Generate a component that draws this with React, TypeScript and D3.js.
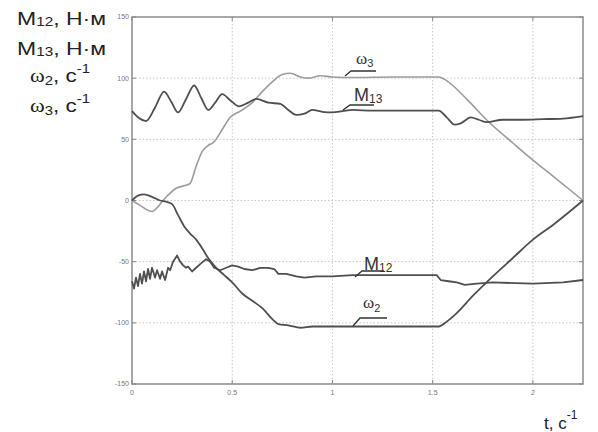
import React from "react";
import * as d3 from "d3";

// [t, value] pairs
const omega3: [number, number][] = [
  [0, 0], [0.04, -4], [0.1, -9], [0.13, -5], [0.16, 1], [0.19, 6], [0.22, 10],
  [0.26, 12], [0.29, 14], [0.32, 28], [0.35, 40], [0.38, 45], [0.41, 48],
  [0.45, 58], [0.49, 68], [0.54, 73], [0.6, 80], [0.65, 89], [0.7, 97],
  [0.75, 103], [0.79, 104], [0.84, 101], [0.88, 100], [0.94, 102], [1.0, 101],
  [1.1, 100.5], [1.3, 101], [1.53, 101], [1.56, 99], [1.6, 94], [1.675, 82],
  [1.775, 65], [1.9, 47], [2.0, 33], [2.1, 20], [2.25, 0],
];

const m13: [number, number][] = [
  [0, 73], [0.03, 68], [0.07, 65], [0.115, 76], [0.16, 89], [0.195, 81],
  [0.23, 72], [0.27, 83], [0.31, 94], [0.345, 84], [0.38, 74], [0.415, 80],
  [0.45, 87], [0.49, 82], [0.535, 77], [0.58, 80], [0.62, 83], [0.68, 80],
  [0.74, 79], [0.78, 74], [0.82, 70], [0.86, 71], [0.9, 74], [0.95, 72.5],
  [1.0, 72], [1.05, 73], [1.1, 74], [1.2, 73.5], [1.3, 73.5], [1.53, 73.5],
  [1.57, 68], [1.61, 62], [1.64, 63], [1.69, 68], [1.73, 66], [1.77, 64],
  [1.85, 66], [1.95, 66], [2.05, 66.5], [2.15, 67], [2.25, 69],
];

const omega2: [number, number][] = [
  [0, 0], [0.03, 4], [0.06, 5], [0.1, 3], [0.14, 0], [0.17, -1], [0.2, -3],
  [0.23, -12], [0.26, -21], [0.29, -27], [0.32, -32], [0.35, -39], [0.38, -47],
  [0.42, -55], [0.46, -61], [0.5, -67], [0.55, -76], [0.6, -82], [0.65, -88],
  [0.7, -97], [0.73, -101], [0.78, -102], [0.84, -104], [0.9, -103],
  [1.0, -103], [1.2, -103], [1.53, -103], [1.57, -99], [1.62, -92],
  [1.7, -78], [1.8, -62], [1.9, -47], [2.0, -32], [2.1, -20], [2.25, 0],
];

const m12: [number, number][] = [
  [0, -66], [0.01, -72], [0.02, -63], [0.03, -70], [0.04, -60], [0.05, -68],
  [0.06, -58], [0.07, -66], [0.08, -56], [0.09, -64], [0.1, -55], [0.115, -63],
  [0.125, -57], [0.14, -64], [0.15, -58], [0.165, -65], [0.18, -55],
  [0.19, -57], [0.205, -50], [0.225, -45], [0.24, -50], [0.255, -53],
  [0.27, -55], [0.28, -54], [0.3, -58], [0.32, -55], [0.34, -52], [0.355, -50],
  [0.37, -48], [0.39, -50], [0.41, -55], [0.44, -57], [0.47, -55], [0.5, -53],
  [0.53, -54], [0.56, -56], [0.6, -57], [0.64, -55], [0.68, -55], [0.71, -56],
  [0.73, -60], [0.77, -60], [0.82, -62], [0.86, -63], [0.92, -62], [1.0, -62],
  [1.1, -61], [1.3, -61], [1.52, -61], [1.54, -65], [1.58, -66], [1.62, -67],
  [1.66, -69], [1.72, -68], [1.8, -67], [2.0, -68], [2.15, -67], [2.25, -65],
];

const xTicks = [0, 0.5, 1, 1.5, 2];
const yTicks = [-150, -100, -50, 0, 50, 100, 150];

const W = 598;
const H = 432;
const left = 132;
const right = 583;
const top = 17;
const bottom = 384;

const x = d3.scaleLinear().domain([0, 2.25]).range([left, right]);
const y = d3.scaleLinear().domain([-150, 150]).range([bottom, top]);

const smooth = d3
  .line<[number, number]>()
  .x((d) => x(d[0]))
  .y((d) => y(d[1]))
  .curve(d3.curveMonotoneX);

const jagged = d3
  .line<[number, number]>()
  .x((d) => x(d[0]))
  .y((d) => y(d[1]));

const dark = "#4f4f4f";
const light = "#9c9c9c";
const sans = "'Liberation Sans', Arial, sans-serif";
const serif = "'Liberation Serif', 'Times New Roman', serif";

// leader line for a curve label: from the curve up to an underline
function Leader({ x0, y0, x1, y1, x2 }: { x0: number; y0: number; x1: number; y1: number; x2: number }) {
  return (
    <path
      d={`M${x0},${y0}L${x1},${y1}L${x2},${y1}`}
      fill="none"
      stroke="#333"
      strokeWidth={1.3}
    />
  );
}

export default function App() {
  return (
    <svg
      width={W}
      height={H}
      style={{ position: "absolute", left: 0, top: 0, background: "#fff" }}
    >
      {/* grid */}
      <g stroke="#c8c8c8" strokeWidth={1} strokeDasharray="1.5,2">
        {xTicks.slice(1).map((t) => (
          <line key={"gx" + t} x1={x(t)} x2={x(t)} y1={top} y2={bottom} />
        ))}
        {yTicks.slice(1, -1).map((v) => (
          <line key={"gy" + v} x1={left} x2={right} y1={y(v)} y2={y(v)} />
        ))}
      </g>

      {/* tick marks */}
      <g stroke="#888" strokeWidth={1}>
        {xTicks.map((t) => (
          <g key={"tx" + t}>
            <line x1={x(t)} x2={x(t)} y1={bottom} y2={bottom - 4} />
            <line x1={x(t)} x2={x(t)} y1={top} y2={top + 4} />
          </g>
        ))}
        {yTicks.map((v) => (
          <g key={"ty" + v}>
            <line x1={left} x2={left + 4} y1={y(v)} y2={y(v)} />
            <line x1={right} x2={right - 4} y1={y(v)} y2={y(v)} />
          </g>
        ))}
      </g>

      {/* frame */}
      <rect
        x={left}
        y={top}
        width={right - left}
        height={bottom - top}
        fill="none"
        stroke="#8a8a8a"
        strokeWidth={1.5}
      />

      {/* tick labels */}
      <g fontFamily={sans} fontSize={7} fill="#777">
        {yTicks.map((v) => (
          <text key={"ly" + v} x={left - 3} y={y(v)} dy="0.35em" textAnchor="end">
            {v}
          </text>
        ))}
        {xTicks.map((t) => (
          <text key={"lx" + t} x={x(t)} y={bottom + 11} textAnchor="middle">
            {t}
          </text>
        ))}
      </g>

      {/* curves */}
      <path d={smooth(omega3) ?? ""} fill="none" stroke={light} strokeWidth={1.6} />
      <path d={smooth(omega2) ?? ""} fill="none" stroke={dark} strokeWidth={1.8} />
      <path d={smooth(m13) ?? ""} fill="none" stroke={dark} strokeWidth={1.8} />
      <path d={jagged(m12) ?? ""} fill="none" stroke={dark} strokeWidth={1.8} strokeLinejoin="round" />

      {/* curve labels */}
      <Leader x0={345} y0={76} x1={351} y1={71} x2={376} />
      <text x={356} y={64} fontFamily={serif} fontSize={17} fill="#333">
        ω<tspan fontFamily={sans} fontSize={11} dy={3}>3</tspan>
      </text>
      <Leader x0={343} y0={110} x1={350} y1={105} x2={374} />
      <text x={354} y={101} fontFamily={sans} fontSize={18} fill="#333">
        M<tspan fontSize={12} dy={2}>13</tspan>
      </text>
      <Leader x0={355} y0={277} x1={362} y1={271} x2={384} />
      <text x={364} y={270} fontFamily={sans} fontSize={18} fill="#333">
        M<tspan fontSize={12} dy={2}>12</tspan>
      </text>
      <Leader x0={353} y0={326} x1={360} y1={318} x2={387} />
      <text x={363} y={308} fontFamily={serif} fontSize={17} fill="#333">
        ω<tspan fontFamily={sans} fontSize={11} dy={4}>2</tspan>
      </text>

      {/* axis titles */}
      <g fill="#222" fontFamily={sans}>
        <text x={17} y={25} fontSize={18} textLength={89} lengthAdjust="spacingAndGlyphs">
          M<tspan fontSize={12} dy={1}>12</tspan>
          <tspan dy={-1}>, Н·м</tspan>
        </text>
        <text x={17} y={55} fontSize={18} textLength={89} lengthAdjust="spacingAndGlyphs">
          M<tspan fontSize={12} dy={1}>13</tspan>
          <tspan dy={-1}>, Н·м</tspan>
        </text>
        <text x={30} y={82} fontSize={18} textLength={60} lengthAdjust="spacingAndGlyphs">
          <tspan fontFamily={serif}>ω</tspan>
          <tspan fontSize={12} dy={3}>2</tspan>
          <tspan dy={-3}>, с</tspan>
          <tspan fontSize={12} dy={-9}>-1</tspan>
        </text>
        <text x={30} y={112} fontSize={18} textLength={60} lengthAdjust="spacingAndGlyphs">
          <tspan fontFamily={serif}>ω</tspan>
          <tspan fontSize={12} dy={3}>3</tspan>
          <tspan dy={-3}>, с</tspan>
          <tspan fontSize={12} dy={-9}>-1</tspan>
        </text>
        <text x={544} y={429} fontSize={17}>
          t, с<tspan fontSize={12} dy={-10}>-1</tspan>
        </text>
      </g>
    </svg>
  );
}
